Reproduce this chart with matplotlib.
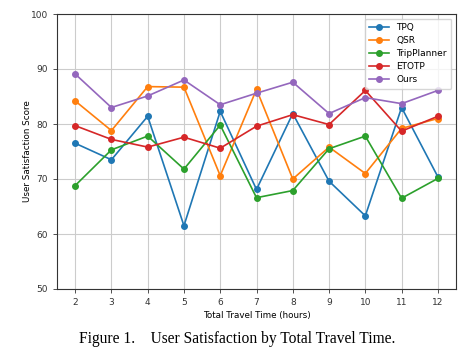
import matplotlib
matplotlib.use("Agg")
import matplotlib.pyplot as plt

hours = [2, 3, 4, 5, 6, 7, 8, 9, 10, 11, 12]
tpq = [76.5, 73.5, 81.4, 61.5, 82.3, 68.1, 81.9, 69.6, 63.3, 83.0, 70.4]
qsr = [84.2, 78.8, 86.8, 86.7, 70.6, 86.3, 70.0, 75.8, 71.0, 79.2, 81.0]
trip = [68.8, 75.3, 77.8, 71.8, 79.8, 66.6, 67.9, 75.5, 77.8, 66.5, 70.1]
etotp = [79.7, 77.2, 75.8, 77.6, 75.6, 79.6, 81.7, 79.9, 86.1, 78.7, 81.4]
ours = [89.1, 83.0, 85.1, 88.0, 83.5, 85.6, 87.6, 81.9, 84.8, 83.7, 86.1]
series = [("TPQ", tpq), ("QSR", qsr), ("TripPlanner", trip), ("ETOTP", etotp), ("Ours", ours)]
colors = ["#1f77b4", "#ff7f0e", "#2ca02c", "#d62728", "#9467bd"]

fig = plt.figure(figsize=(4.74, 3.59), dpi=100)
ax = fig.add_axes([57/474, 1-289/359, (456-57)/474, (289-14)/359])
for (name, vals), c in zip(series, colors):
    ax.plot(hours, vals, marker="o", color=c, label=name, lw=1.2, ms=4)
ax.set_ylim(50, 100)
ax.set_xlim(1.5, 12.5)
ax.set_xticks(hours)
ax.set_yticks([50, 60, 70, 80, 90, 100])
ax.grid(True, color="#cccccc", lw=0.8)
ax.tick_params(labelsize=6.5, length=3, width=0.6, colors="#333333")
for s in ax.spines.values():
    s.set_linewidth(0.8)
    s.set_color("#333333")
ax.set_xlabel("Total Travel Time (hours)", fontsize=6.3, labelpad=3)
ax.set_ylabel("User Satisfaction Score", fontsize=6.3)
ax.yaxis.set_label_coords(-0.063, 0.5)
ax.legend(loc="upper right", fontsize=6.5, frameon=True, handlelength=2.2, borderpad=0.5, labelspacing=0.45)
fig.text(0.5, 1-339/359, "Figure 1.    User Satisfaction by Total Travel Time.", ha="center", va="center",
         fontsize=11.2, family="Liberation Serif")
fig.savefig("out.png", dpi=100)
